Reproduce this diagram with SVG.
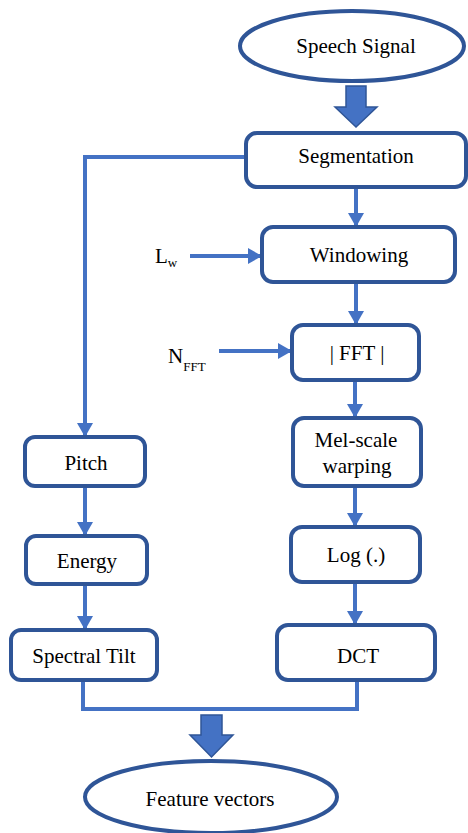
<svg xmlns="http://www.w3.org/2000/svg" width="468" height="833" viewBox="0 0 468 833">
<style>
.box{fill:#fff;stroke:#2F5597;stroke-width:4}
.t{font-size:21px;fill:#000;text-anchor:middle}
.s{font-size:21px;fill:#000}
.c{fill:none;stroke:#4472C4;stroke-width:4}
.blk{fill:#4472C4;stroke:#2F5597;stroke-width:1.5}
</style>
<defs>
<marker id="ah" markerUnits="userSpaceOnUse" markerWidth="16" markerHeight="16" refX="14" refY="8" orient="auto">
<path d="M0,0 L14,8 L0,16 Z" fill="#4472C4"/>
</marker>
</defs>
<rect width="468" height="833" fill="#fff"/>
<g id="connectors">
<path class="c" d="M246,157 H85 V437" marker-end="url(#ah)"/>
<path class="c" d="M356,187 V227" marker-end="url(#ah)"/>
<path class="c" d="M190,256 H262" marker-end="url(#ah)"/>
<path class="c" d="M356,282 V325" marker-end="url(#ah)"/>
<path class="c" d="M219,351 H292" marker-end="url(#ah)"/>
<path class="c" d="M355,380 V418" marker-end="url(#ah)"/>
<path class="c" d="M355,486 V527" marker-end="url(#ah)"/>
<path class="c" d="M355,582 V625" marker-end="url(#ah)"/>
<path class="c" d="M85,486 V536" marker-end="url(#ah)"/>
<path class="c" d="M85,584 V630" marker-end="url(#ah)"/>
<path class="c" d="M83,680 V709 H357 V680"/>
<path class="blk" d="M346,86 H366 V107 H377 L356,127 L335,107 H346 Z"/>
<path class="blk" d="M201,715 H222 V735 H233 L211.5,757 L190,735 H201 Z"/>
</g>
<g font-family="Liberation Serif, serif">
<g id="speech-signal">
<ellipse class="box" cx="352" cy="46" rx="112" ry="35"/>
<text class="t" x="356" y="53">Speech Signal</text>
</g>
<g id="segmentation">
<rect class="box" x="246" y="133" width="220" height="54" rx="11"/>
<text class="t" x="356" y="163">Segmentation</text>
</g>
<g id="lw">
<text class="s" x="155" y="263">L<tspan font-size="13" dy="4">w</tspan></text>
</g>
<g id="windowing">
<rect class="box" x="262" y="227" width="193" height="55" rx="11"/>
<text class="t" x="359" y="262">Windowing</text>
</g>
<g id="nfft">
<text class="s" x="168" y="363">N<tspan font-size="13" dy="8">FFT</tspan></text>
</g>
<g id="fft">
<rect class="box" x="292" y="325" width="127" height="55" rx="11"/>
<text class="t" x="357" y="360">| FFT |</text>
</g>
<g id="mel">
<rect class="box" x="293" y="418" width="128" height="68" rx="11"/>
<text class="t" x="356" y="447">Mel-scale</text>
<text class="t" x="357" y="473">warping</text>
</g>
<g id="log">
<rect class="box" x="291" y="527" width="129" height="55" rx="11"/>
<text class="t" x="356" y="562">Log (.)</text>
</g>
<g id="dct">
<rect class="box" x="277" y="625" width="158" height="55" rx="11"/>
<text class="t" x="358" y="663">DCT</text>
</g>
<g id="pitch">
<rect class="box" x="25" y="437" width="120" height="49" rx="10"/>
<text class="t" x="86" y="470">Pitch</text>
</g>
<g id="energy">
<rect class="box" x="26" y="536" width="121" height="48" rx="10"/>
<text class="t" x="87" y="568">Energy</text>
</g>
<g id="spectral-tilt">
<rect class="box" x="11" y="630" width="146" height="50" rx="10"/>
<text class="t" x="84" y="663">Spectral Tilt</text>
</g>
<g id="feature-vectors">
<ellipse class="box" cx="211" cy="797" rx="126" ry="36"/>
<text class="t" x="210" y="806">Feature vectors</text>
</g>
</g>
</svg>
